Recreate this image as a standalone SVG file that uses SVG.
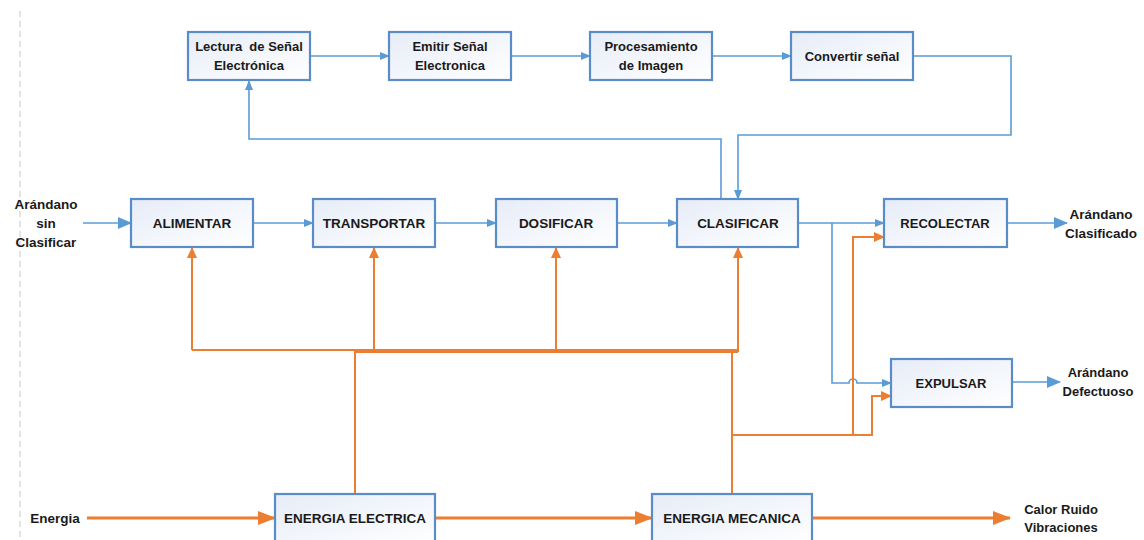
<svg xmlns="http://www.w3.org/2000/svg" width="1144" height="540" viewBox="0 0 1144 540">
<style>
.box{fill:url(#g);stroke:#5A8DC8;stroke-width:2.2}
.t{font-family:"Liberation Sans",Arial,sans-serif;font-weight:bold;font-size:13.5px;fill:#1a1a1a;text-anchor:middle}
.ts{font-family:"Liberation Sans",Arial,sans-serif;font-weight:bold;font-size:13px;fill:#1a1a1a;text-anchor:middle}
.b{fill:none;stroke:#5B9BD5;stroke-width:1.6}
.o{fill:none;stroke:#ED7D31;stroke-width:2}
.O{fill:none;stroke:#ED7D31;stroke-width:3}
</style>
<defs>
<linearGradient id="g" x1="0" y1="0" x2="1" y2="1">
<stop offset="0" stop-color="#E6ECF7"/><stop offset="1" stop-color="#FFFFFF"/>
</linearGradient>
<marker id="ab" markerWidth="10" markerHeight="8" refX="9" refY="4" orient="auto" markerUnits="userSpaceOnUse"><path d="M0,0 L10,4 L0,8 Z" fill="#5B9BD5"/></marker>
<marker id="abl" markerWidth="14" markerHeight="12" refX="13" refY="6" orient="auto" markerUnits="userSpaceOnUse"><path d="M0,0 L14,6 L0,12 Z" fill="#5B9BD5"/></marker>
<marker id="ao" markerWidth="11" markerHeight="10" refX="10" refY="5" orient="auto" markerUnits="userSpaceOnUse"><path d="M0,0 L11,5 L0,10 Z" fill="#ED7D31"/></marker>
<marker id="aO" markerWidth="18" markerHeight="14" refX="17" refY="7" orient="auto" markerUnits="userSpaceOnUse"><path d="M0,0 L18,7 L0,14 Z" fill="#ED7D31"/></marker>
</defs>
<rect width="1144" height="540" fill="#fff"/>
<line x1="20" y1="11" x2="20" y2="540" stroke="#c8c8c8" stroke-width="1" stroke-dasharray="6,4"/>

<g id="connectors">
<path class="b" d="M310,56 H389" marker-end="url(#ab)"/>
<path class="b" d="M511,56 H590" marker-end="url(#ab)"/>
<path class="b" d="M712,56 H791" marker-end="url(#ab)"/>
<path class="b" d="M913,56 H1011 V135 H738 V199" marker-end="url(#ab)"/>
<path class="b" d="M721,199 V139 H249 V81" marker-end="url(#ab)"/>
<path class="b" d="M83,223 H131" marker-end="url(#abl)"/>
<path class="b" d="M253,223 H313" marker-end="url(#ab)"/>
<path class="b" d="M435,223 H496" marker-end="url(#ab)"/>
<path class="b" d="M617,223 H677" marker-end="url(#ab)"/>
<path class="b" d="M798,223 H884" marker-end="url(#ab)"/>
<path class="b" d="M832,223 V383 H849 A4,4 0 0 1 857,383 H891" marker-end="url(#ab)"/>
<path class="b" d="M1007,223 H1067" marker-end="url(#abl)"/>
<path class="b" d="M1012,382 H1060" marker-end="url(#abl)"/>
<path class="o" d="M192,350 H738"/>
<path class="o" d="M192,350 V248" marker-end="url(#ao)"/>
<path class="o" d="M374,350 V248" marker-end="url(#ao)"/>
<path class="o" d="M556,350 V248" marker-end="url(#ao)"/>
<path class="o" d="M738,352 V248" marker-end="url(#ao)"/>
<path class="o" d="M355,494 V352 H738"/>
<path class="o" d="M732,352 V494"/>
<path class="o" d="M732,435 H872 V396 H891" marker-end="url(#ao)"/>
<path class="o" d="M853,435 V237 H884" marker-end="url(#ao)"/>
<path class="O" d="M87,518 H275" marker-end="url(#aO)"/>
<path class="O" d="M435,518 H652" marker-end="url(#aO)"/>
<path class="O" d="M812,518 H1010" marker-end="url(#aO)"/>
</g>

<g id="n-lectura"><rect class="box" x="188" y="32" width="122" height="48"/><text class="ts" x="249" y="51">Lectura&#160; de Señal</text><text class="ts" x="249" y="70">Electrónica</text></g>
<g id="n-emitir"><rect class="box" x="389" y="32" width="122" height="48"/><text class="ts" x="450" y="51">Emitir Señal</text><text class="ts" x="450" y="70">Electronica</text></g>
<g id="n-proc"><rect class="box" x="590" y="32" width="122" height="48"/><text class="ts" x="651" y="51">Procesamiento</text><text class="ts" x="651" y="70">de Imagen</text></g>
<g id="n-conv"><rect class="box" x="791" y="32" width="122" height="48"/><text class="ts" x="852" y="61">Convertir señal</text></g>

<g id="n-alimentar"><rect class="box" x="131" y="199" width="122" height="48"/><text class="t" x="192" y="228">ALIMENTAR</text></g>
<g id="n-transportar"><rect class="box" x="313" y="199" width="122" height="48"/><text class="t" x="374" y="228">TRANSPORTAR</text></g>
<g id="n-dosificar"><rect class="box" x="496" y="199" width="121" height="48"/><text class="t" x="556" y="228">DOSIFICAR</text></g>
<g id="n-clasificar"><rect class="box" x="677" y="199" width="121" height="48"/><text class="t" x="738" y="228">CLASIFICAR</text></g>
<g id="n-recolectar"><rect class="box" x="884" y="199" width="123" height="48"/><text class="ts" x="945" y="228">RECOLECTAR</text></g>
<g id="n-expulsar"><rect class="box" x="891" y="359" width="121" height="48"/><text class="ts" x="951" y="388">EXPULSAR</text></g>
<g id="n-elec"><rect class="box" x="275" y="494" width="160" height="52"/><text class="t" x="355" y="523">ENERGIA ELECTRICA</text></g>
<g id="n-mec"><rect class="box" x="652" y="494" width="160" height="52"/><text class="t" x="732" y="523">ENERGIA MECANICA</text></g>

<g id="labels">
<text class="t" x="46" y="209">Arándano</text>
<text class="t" x="46" y="228">sin</text>
<text class="t" x="46" y="247">Clasificar</text>
<text class="t" x="1101" y="219">Arándano</text>
<text class="t" x="1101" y="238">Clasificado</text>
<text class="ts" x="1098" y="377">Arándano</text>
<text class="ts" x="1098" y="396">Defectuoso</text>
<text class="t" x="55" y="523">Energia</text>
<text class="ts" x="1061" y="514">Calor Ruido</text>
<text class="ts" x="1061" y="532">Vibraciones</text>
</g>
</svg>
